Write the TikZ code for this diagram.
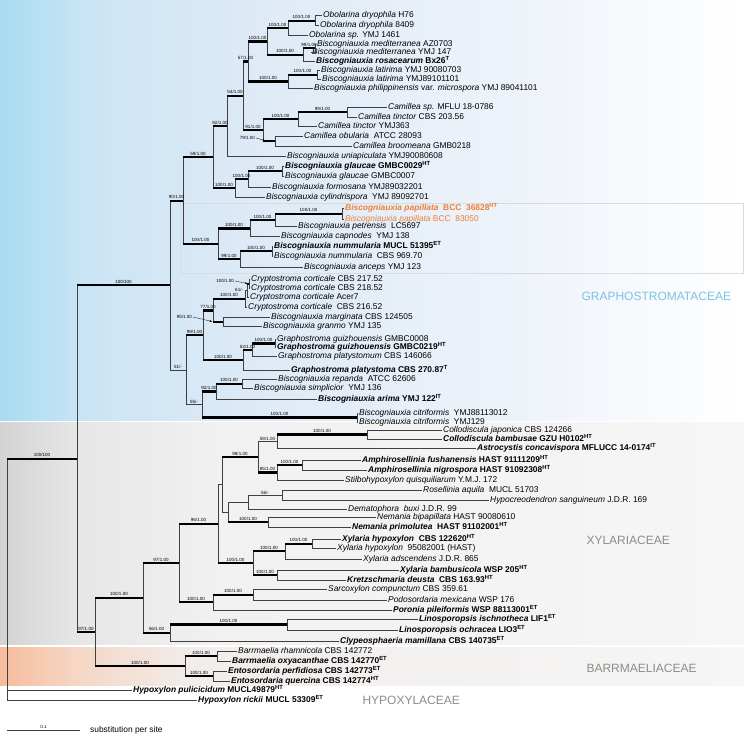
\documentclass[tikz,border=0pt]{standalone}
\usepackage{fontspec}
\setmainfont{Liberation Sans}
\usetikzlibrary{arrows.meta}

\definecolor{bl0}{HTML}{A8DBF1}
\definecolor{bl1}{HTML}{CBE5F5}
\definecolor{bl2}{HTML}{DEEAF6}
\definecolor{bl3}{HTML}{EEF3FA}
\definecolor{gr0}{HTML}{D3D3D3}
\definecolor{gr1}{HTML}{E6E6E6}
\definecolor{gr2}{HTML}{F1F1F1}
\definecolor{gr3}{HTML}{F6F6F6}
\definecolor{or0}{HTML}{F6BC9C}
\definecolor{or1}{HTML}{F6D6C4}
\definecolor{or2}{HTML}{F1EDEB}
\definecolor{famblue}{HTML}{7CC3E6}
\definecolor{famgrey}{HTML}{8C8C8C}
\definecolor{papor}{HTML}{F07E3A}

\pgfdeclarehorizontalshading{blueband}{100bp}{color(0bp)=(bl0); color(25bp)=(bl0); color(31bp)=(bl1); color(42bp)=(bl2); color(60bp)=(bl3); color(75bp)=(white); color(100bp)=(white)}
\pgfdeclarehorizontalshading{greyband}{100bp}{color(0bp)=(gr0); color(25bp)=(gr0); color(30bp)=(gr1); color(40bp)=(gr2); color(75bp)=(gr3); color(100bp)=(gr3)}
\pgfdeclarehorizontalshading{orangeband}{100bp}{color(0bp)=(or0); color(25bp)=(or0); color(30bp)=(or1); color(38bp)=(or2); color(75bp)=(gr3); color(100bp)=(gr3)}

\newcommand\taxon[2]{\textit{#1} #2}
\newcommand\taxonb[3]{\textbf{\textit{#1} #2\textsuperscript{#3}}}
% elbow branch: thin vertical, bold horizontal with support value
\newcommand\cladeb[3]{\draw[vl] (#1) |- (#2); \draw[hb] (#1 |- #2) -- node[bs]{#3} (#2);}
\newcommand\cladet[3]{\draw[vl] (#1) |- node[bs,pos=0.75]{#3} (#2);}
\newcommand\leafbr[2]{\draw[vl] (#1) |- (#2.west);}

\tikzset{
  vl/.style={draw=black!75, line width=0.7pt},
  hb/.style={draw=black, line width=2.2pt},
  bs/.style={font=\fontsize{4.5}{5}\selectfont, above, inner sep=0.8pt},
  tx/.style={font=\fontsize{8.4}{9}\selectfont, anchor=west, inner xsep=1pt, inner ysep=0pt, text height=6pt, text depth=1.8pt},
  fam/.style={font=\fontsize{12}{14}\selectfont, anchor=west, text=famgrey},
  ptr/.style={-{Stealth[length=2.5pt,width=2pt]}, line width=0.3pt},
}

\begin{document}
\begin{tikzpicture}[x=1pt, y=-1pt]

\useasboundingbox (0,0) rectangle (744,736);

% family bands
\shade[shading=blueband] (0,0) rectangle (744,420.5);
\shade[shading=greyband] (0,422) rectangle (744,644);
\shade[shading=orangeband] (0,647) rectangle (744,685);
\draw[line width=0.6pt, draw=black!14] (180,203) rectangle (743,273);

\node[fam, text=famblue] (graph) at (578,296) {GRAPHOSTROMATACEAE};
\node[fam] (xyl) at (583,540) {XYLARIACEAE};
\node[fam] (barr) at (583,668) {BARRMAELIACEAE};
\node[fam] (hypo) at (359,700) {HYPOXYLACEAE};

% taxa
\node[tx] (t1) at (322,15.7) {\taxon{Obolarina dryophila}{H76}};
\node[tx] (t2) at (319,25.7) {\taxon{Obolarina dryophila}{8409}};
\node[tx] (t3) at (308,35.7) {\taxon{Obolarina sp.}{YMJ 1461}};
\node[tx] (t4) at (316,44.3) {\taxon{Biscogniauxia mediterranea}{AZ0703}};
\node[tx] (t5) at (311,52.3) {\taxon{Biscogniauxia mediterranea}{YMJ 147}};
\node[tx] (t6) at (315,61) {\taxonb{Biscogniauxia rosacearum}{Bx26}{T}};
\node[tx] (t7) at (320,70.3) {\taxon{Biscogniauxia latirima}{YMJ 90080703}};
\node[tx] (t8) at (321,79) {\taxon{Biscogniauxia latirima}{YMJ89101101}};
\node[tx] (t9) at (313,88.3) {\textit{Biscogniauxia philippinensis} var. \textit{microspora} YMJ 89041101};
\node[tx] (t10) at (387,107.3) {\taxon{Camillea sp.}{MFLU 18-0786}};
\node[tx] (t11) at (357,117.3) {\taxon{Camillea tinctor}{CBS 203.56}};
\node[tx] (t12) at (317,126) {\taxon{Camillea tinctor}{YMJ363}};
\node[tx] (t13) at (303,136) {\taxon{Camillea obularia}{~ATCC 28093}};
\node[tx] (t14) at (352,146) {\taxon{Camillea broomeana}{GMB0218}};
\node[tx] (t15) at (286,156.7) {\taxon{Biscogniauxia uniapiculata}{YMJ90080608}};
\node[tx] (t16) at (284,166.7) {\taxonb{Biscogniauxia glaucae}{GMBC0029}{HT}};
\node[tx] (t17) at (284,176) {\taxon{Biscogniauxia glaucae}{GMBC0007}};
\node[tx] (t18) at (271,187.3) {\taxon{Biscogniauxia formosana}{YMJ89032201}};
\node[tx] (t19) at (265,197.3) {\taxon{Biscogniauxia cylindrispora}{~YMJ 89092701}};
\node[tx, text=papor] (t20) at (344,208.3) {\taxonb{Biscogniauxia papillata}{~BCC ~36828}{HT}};
\node[tx, text=papor] (t21) at (344,219) {\taxon{Biscogniauxia papillata}{BCC ~83050}};
\node[tx] (t22) at (297,226.7) {\taxon{Biscogniauxia petrensis}{~LC5697}};
\node[tx] (t23) at (280,236.7) {\taxon{Biscogniauxia capnodes}{~YMJ 138}};
\node[tx] (t24) at (273,246.7) {\taxonb{Biscogniauxia nummularia}{MUCL 51395}{ET}};
\node[tx] (t25) at (273,256) {\taxon{Biscogniauxia nummularia}{~CBS 969.70}};
\node[tx] (t26) at (303,267.3) {\taxon{Biscogniauxia anceps}{YMJ 123}};
\node[tx] (t27) at (250,279.3) {\taxon{Cryptostroma corticale}{CBS 217.52}};
\node[tx] (t28) at (250,288.3) {\taxon{Cryptostroma corticale}{CBS 218.52}};
\node[tx] (t29) at (249,297.3) {\taxon{Cryptostroma corticale}{Acer7}};
\node[tx] (t30) at (247,307.3) {\taxon{Cryptostroma corticale}{~CBS 216.52}};
\node[tx] (t31) at (270,317.3) {\taxon{Biscogniauxia marginata}{CBS 124505}};
\node[tx] (t32) at (262,326.7) {\taxon{Biscogniauxia granmo}{YMJ 135}};
\node[tx] (t33) at (276,339.3) {\taxon{Graphostroma guizhouensis}{GMBC0008}};
\node[tx] (t34) at (276,347.7) {\taxonb{Graphostroma guizhouensis}{GMBC0219}{HT}};
\node[tx] (t35) at (277,356.7) {\taxon{Graphostroma platystomum}{CBS 146066}};
\node[tx] (t36) at (290,370) {\taxonb{Graphostroma platystoma}{CBS 270.87}{T}};
\node[tx] (t37) at (277,379.3) {\taxon{Biscogniauxia repanda}{~ATCC 62606}};
\node[tx] (t38) at (253,388.3) {\taxon{Biscogniauxia simplicior}{~YMJ 136}};
\node[tx] (t39) at (317,399.3) {\taxonb{Biscogniauxia arima}{YMJ 122}{IT}};
\node[tx] (t40) at (358,413) {\taxon{Biscogniauxia citriformis}{~YMJ88113012}};
\node[tx] (t41) at (358,422) {\taxon{Biscogniauxia citriformis}{~YMJ129}};
\node[tx] (t42) at (442,430) {\taxon{Collodiscula japonica}{CBS 124266}};
\node[tx] (t43) at (442,439) {\taxonb{Collodiscula bambusae}{GZU H0102}{HT}};
\node[tx] (t44) at (476,448.3) {\taxonb{Astrocystis concavispora}{MFLUCC 14-0174}{IT}};
\node[tx] (t45) at (361,460) {\taxonb{Amphirosellinia fushanensis}{HAST 91111209}{HT}};
\node[tx] (t46) at (367,470) {\taxonb{Amphirosellinia nigrospora}{HAST 91092308}{HT}};
\node[tx] (t47) at (344,480) {\taxon{Stilbohypoxylon quisquiliarum}{Y.M.J. 172}};
\node[tx] (t48) at (422,490) {\taxon{Rosellinia aquila}{~MUCL 51703}};
\node[tx] (t49) at (489,500.7) {\taxon{Hypocreodendron sanguineum}{J.D.R. 169}};
\node[tx] (t50) at (347,509) {\taxon{Dematophora ~buxi}{J.D.R. 99}};
\node[tx] (t51) at (376,517.3) {\taxon{Nemania bipapillata}{HAST 90080610}};
\node[tx] (t52) at (351,527.3) {\taxonb{Nemania primolutea}{~HAST 91102001}{HT}};
\node[tx] (t53) at (341,539) {\taxonb{Xylaria hypoxylon}{~CBS 122620}{HT}};
\node[tx] (t54) at (336,548.3) {\taxon{Xylaria hypoxylon}{~95082001 (HAST)}};
\node[tx] (t55) at (362,559) {\taxon{Xylaria adscendens}{J.D.R. 865}};
\node[tx] (t56) at (399,570) {\taxonb{Xylaria bambusicola}{WSP 205}{HT}};
\node[tx] (t57) at (346,580) {\taxonb{Kretzschmaria deusta}{~CBS 163.93}{HT}};
\node[tx] (t58) at (327,589.3) {\taxon{Sarcoxylon compunctum}{CBS 359.61}};
\node[tx] (t59) at (387,600) {\taxon{Podosordaria mexicana}{WSP 176}};
\node[tx] (t60) at (392,610) {\taxonb{Poronia pileiformis}{WSP 88113001}{ET}};
\node[tx] (t61) at (418,619) {\taxonb{Linosporopsis ischnotheca}{LIF1}{ET}};
\node[tx] (t62) at (398,630) {\taxonb{Linosporopsis ochracea}{LIO3}{ET}};
\node[tx] (t63) at (339,641) {\taxonb{Clypeosphaeria mamillana}{CBS 140735}{ET}};
\node[tx] (t64) at (237,651.7) {\taxon{Barrmaelia rhamnicola}{CBS 142772}};
\node[tx] (t65) at (231,661) {\taxonb{Barrmaelia oxyacanthae}{CBS 142770}{ET}};
\node[tx] (t66) at (227,671) {\taxonb{Entosordaria perfidiosa}{CBS 142773}{ET}};
\node[tx] (t67) at (230,681) {\taxonb{Entosordaria quercina}{CBS 142774}{HT}};
\node[tx] (t68) at (132,690) {\taxonb{Hypoxylon pulicicidum}{MUCL49879}{HT}};
\node[tx] (t69) at (197,700) {\taxonb{Hypoxylon rickii}{MUCL 53309}{ET}};

% internal nodes
\coordinate (a111) at (315,20.7);
\coordinate (a11) at (288,28.2);
\coordinate (a121) at (315,48.3);
\coordinate (a12) at (303,54.65);
\coordinate (a1) at (267,41.4);
\coordinate (a21) at (317,74.65);
\coordinate (a2) at (288,81.5);
\coordinate (a) at (248,61.45);
\coordinate (c11) at (347,112.3);
\coordinate (c1) at (298,119.15);
\coordinate (c2) at (275,141);
\coordinate (c) at (263,130.1);
\coordinate (gd) at (243,95.8);
\coordinate (gc) at (227,126.25);
\coordinate (d11) at (282,171.35);
\coordinate (d1) at (248,179.3);
\coordinate (d) at (235,188.3);
\coordinate (gb) at (213,157.3);
\coordinate (p111) at (342,213.65);
\coordinate (p11) at (275,220.2);
\coordinate (p1) at (250,228.45);
\coordinate (p21) at (272,251.35);
\coordinate (p2) at (240,259.3);
\coordinate (p) at (218,243.9);
\coordinate (ga) at (183,200.6);
\coordinate (k111) at (249,283.8);
\coordinate (k11) at (247,290.55);
\coordinate (k1) at (245,298.9);
\coordinate (k2) at (223,322);
\coordinate (k) at (213,310.45);
\coordinate (m11) at (275,343.5);
\coordinate (m1) at (252,350.1);
\coordinate (m) at (243,360.05);
\coordinate (kk) at (203,335.25);
\coordinate (r11) at (242,383.8);
\coordinate (r1) at (216,391.55);
\coordinate (r2) at (357,417.5);
\coordinate (r) at (202,404.5);
\coordinate (gg) at (186,369.9);
\coordinate (g) at (170,285.25);
\coordinate (x111) at (367,434.5);
\coordinate (x11) at (277,441.4);
\coordinate (x121) at (302,465);
\coordinate (x12) at (277,472.5);
\coordinate (x1) at (258,456.95);
\coordinate (x211) at (282,495.35);
\coordinate (x21) at (248,502.2);
\coordinate (x22) at (268,522.3);
\coordinate (x2) at (228,512.25);
\coordinate (xa) at (222,484.6);
\coordinate (y111) at (312,543.65);
\coordinate (y11) at (285,551.3);
\coordinate (y12) at (277,575);
\coordinate (y1) at (253,563.15);
\coordinate (xb) at (218,523.9);
\coordinate (z11) at (253,594.65);
\coordinate (z1) at (213,602.3);
\coordinate (xc) at (179,563.1);
\coordinate (l1) at (287,624.5);
\coordinate (l) at (170,632.75);
\coordinate (xx) at (143,597.9);
\coordinate (b1) at (217,656.35);
\coordinate (b2) at (213,676);
\coordinate (b) at (185,666.2);
\coordinate (xbr) at (95,632.05);
\coordinate (ing) at (77,458.7);
\coordinate (root) at (7,580);

% Graphostromataceae
\cladeb{a11}{a111}{100/1.00}
\leafbr{a111}{t1}\leafbr{a111}{t2}\leafbr{a11}{t3}
\cladeb{a12}{a121}{99/1.00}
\leafbr{a121}{t4}\leafbr{a121}{t5}\leafbr{a12}{t6}
\cladeb{a1}{a11}{100/1.00}
\cladeb{a1}{a12}{100/1.00}
\cladeb{a2}{a21}{100/1.00}
\leafbr{a21}{t7}\leafbr{a21}{t8}\leafbr{a2}{t9}
\cladeb{a}{a1}{100/1.00}
\cladeb{a}{a2}{100/1.00}
\cladeb{c1}{c11}{99/1.00}
\leafbr{c11}{t10}\leafbr{c11}{t11}\leafbr{c1}{t12}
\cladeb{c}{c1}{100/1.00}
\cladeb{c}{c2}{}
\leafbr{c2}{t13}\leafbr{c2}{t14}
\node[bs, anchor=east] (lc2) at (256,138) {79/1.00};
\coordinate (c2a) at (265,140.5);
\draw[ptr] (lc2.east) -- (c2a);
\cladeb{gd}{a}{57/1.00}
\cladeb{gd}{c}{91/1.00}
\cladeb{gc}{gd}{54/1.00}
\leafbr{gc}{t15}
\cladeb{d1}{d11}{100/1.00}
\leafbr{d11}{t16}\leafbr{d11}{t17}\leafbr{d1}{t18}
\cladeb{d}{d1}{100/1.00}
\leafbr{d}{t19}
\cladeb{gb}{gc}{92/1.00}
\cladeb{gb}{d}{100/1.00}
\cladeb{p11}{p111}{100/1.00}
\leafbr{p111}{t20}\leafbr{p111}{t21}\leafbr{p11}{t22}
\cladeb{p1}{p11}{100/1.00}
\leafbr{p1}{t23}
\cladeb{p2}{p21}{100/1.00}
\leafbr{p21}{t24}\leafbr{p21}{t25}\leafbr{p2}{t26}
\cladeb{p}{p1}{100/1.00}
\cladeb{p}{p2}{99/1.00}
\cladeb{ga}{gb}{59/1.00}
\cladeb{ga}{p}{100/1.00}
\cladeb{k11}{k111}{}
\leafbr{k111}{t27}\leafbr{k111}{t28}\leafbr{k11}{t29}
\node[bs, anchor=east] (lk111) at (235,281) {100/1.00};
\coordinate (k111a) at (247.5,283.5);
\draw[ptr] (lk111.east) -- (k111a);
\draw[vl] (k1) |- (k11);
\node[bs, anchor=east] (lk11) at (244,289.5) {61/-};
\leafbr{k1}{t30}
\cladeb{k}{k1}{100/1.00}
\cladeb{k}{k2}{}
\leafbr{k2}{t31}\leafbr{k2}{t32}
\node[bs, anchor=east] (lk2) at (193,317) {95/1.00};
\coordinate (k2a) at (212,321.5);
\draw[ptr] (lk2.east) -- (k2a);
\cladeb{m1}{m11}{100/1.00}
\leafbr{m11}{t33}\leafbr{m11}{t34}\leafbr{m1}{t35}
\cladeb{m}{m1}{53/1.00}
\leafbr{m}{t36}
\cladeb{kk}{k}{77/1.00}
\cladeb{kk}{m}{100/1.00}
\cladeb{r1}{r11}{100/1.00}
\leafbr{r11}{t37}\leafbr{r11}{t38}\leafbr{r1}{t39}
\cladeb{r}{r1}{92/1.00}
\cladeb{r}{r2}{100/1.00}
\leafbr{r2}{t40}\leafbr{r2}{t41}
\cladeb{gg}{kk}{99/1.00}
\cladet{gg}{r}{55/-}
\cladeb{g}{ga}{90/1.00}
\cladet{g}{gg}{51/-}

% Xylariaceae
\cladeb{x11}{x111}{100/1.00}
\leafbr{x111}{t42}\leafbr{x111}{t43}\leafbr{x11}{t44}
\cladeb{x12}{x121}{100/1.00}
\leafbr{x121}{t45}\leafbr{x121}{t46}\leafbr{x12}{t47}
\cladet{x1}{x11}{59/1.00}
\cladeb{x1}{x12}{85/1.00}
\cladet{x21}{x211}{56/-}
\leafbr{x211}{t48}\leafbr{x211}{t49}\leafbr{x21}{t50}
\cladeb{x2}{x22}{100/1.00}
\leafbr{x22}{t51}\leafbr{x22}{t52}
\draw[vl] (x2) |- (x21);
\cladeb{xa}{x1}{98/1.00}
\draw[vl] (xa) |- (x2);
\cladeb{y11}{y111}{100/1.00}
\leafbr{y111}{t53}\leafbr{y111}{t54}\leafbr{y11}{t55}
\cladeb{y1}{y11}{100/1.00}
\cladeb{y1}{y12}{100/1.00}
\leafbr{y12}{t56}\leafbr{y12}{t57}
\draw[vl] (xb) |- (xa);
\cladeb{xb}{y1}{100/1.00}
\cladeb{z1}{z11}{100/1.00}
\leafbr{z11}{t58}\leafbr{z11}{t59}\leafbr{z1}{t60}
\cladeb{xc}{xb}{96/1.00}
\cladeb{xc}{z1}{100/1.00}
\cladeb{l}{l1}{100/1.00}
\leafbr{l1}{t61}\leafbr{l1}{t62}\leafbr{l}{t63}
\cladeb{xx}{xc}{97/1.00}
\cladeb{xx}{l}{56/1.00}

% Barrmaeliaceae and root
\cladeb{b}{b1}{100/1.00}
\leafbr{b1}{t64}\leafbr{b1}{t65}
\cladeb{b}{b2}{100/1.00}
\leafbr{b2}{t66}\leafbr{b2}{t67}
\cladeb{xbr}{xx}{100/1.00}
\cladeb{xbr}{b}{100/1.00}
\cladeb{ing}{g}{100/100}
\cladeb{ing}{xbr}{97/1.00}
\cladeb{root}{ing}{100/100}
\leafbr{root}{t68}\leafbr{root}{t69}

% scale bar
\coordinate (sb0) at (7,730);
\coordinate (sb1) at (80,730);
\draw[vl] (sb0) -- node[bs]{0.1} (sb1);
\node[tx] (sbt) at (89,730) {substitution per site};

\end{tikzpicture}
\end{document}
